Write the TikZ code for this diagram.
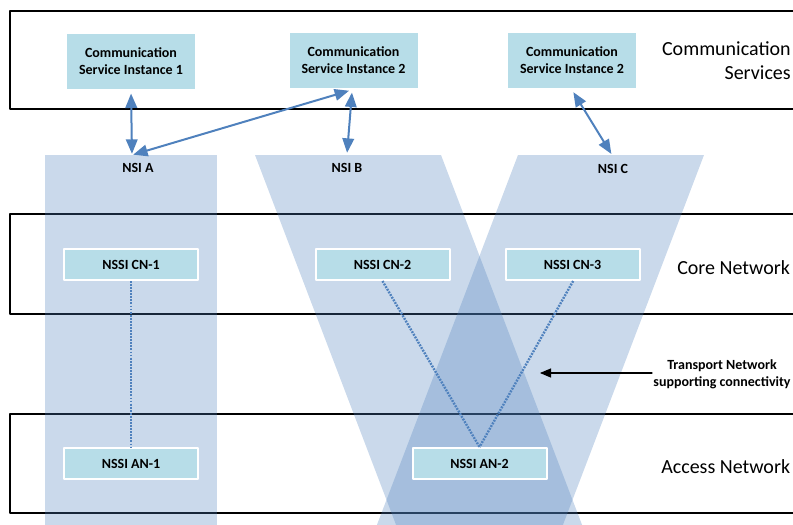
\documentclass[tikz,border=0pt]{standalone}
\usepackage{fontspec}
\setmainfont{Carlito}
\usepackage{tikz}
\usetikzlibrary{arrows}

\definecolor{boxfill}{RGB}{183,221,232}
\definecolor{sliceblue}{RGB}{79,129,189}
\definecolor{linkblue}{RGB}{79,129,189}

\begin{document}
\begin{tikzpicture}[line cap=round,line join=round,>=triangle 45,x=0.75pt,y=-0.75pt,
    inst/.style={fill=boxfill,draw=white,line width=1.5pt,align=center,inner sep=0pt,
      font=\fontsize{10.5}{12.75}\selectfont\bfseries},
    csibox/.style={inst,minimum width=97.5pt,minimum height=42.75pt},
    nssibox/.style={inst,minimum width=100.5pt,minimum height=23.25pt},
    layer/.style={draw=black,line width=1.5pt,line cap=butt},
    slice/.style={fill=sliceblue,fill opacity=0.3},
    slicelabel/.style={font=\fontsize{10.5}{12.75}\selectfont\bfseries,inner sep=0pt},
    layerlabel/.style={font=\fontsize{15}{18}\selectfont,inner sep=0pt},
    link/.style={<->,draw=linkblue,line width=1.5pt,shorten <=2pt,shorten >=1pt},
    tnlink/.style={draw=linkblue,line width=1.8pt,line cap=butt,dash pattern=on 1.4pt off 0.9pt}]
        \useasboundingbox (0,0) rectangle (793,525);
        \clip (0,0) rectangle (793,525);
        \draw[layer] (10,11) rectangle (830,109);
        \draw[layer] (10,214) rectangle (830,314);
        \draw[layer] (10,414) rectangle (830,513);
        \fill[slice] (45,155) rectangle (217,530);
        \fill[slice] (255,155) -- (441,155) -- (584,530) -- (398,530) -- cycle;
        \fill[slice] (518,155) -- (704,155) -- (561,530) -- (375,530) -- cycle;
        \node[slicelabel] (nsiA) at (138,168) {NSI A};
        \node[slicelabel] (nsiB) at (347,168) {NSI B};
        \node[slicelabel] (nsiC) at (613,169) {NSI C};
        \coordinate (topA) at (132,155);
        \coordinate (topB) at (347,154);
        \coordinate (topC) at (612,155);
        \node[csibox] (csi1) at (131,61.5) {Communication\\Service Instance 1};
        \node[csibox] (csi2) at (353.5,60.5) {Communication\\Service Instance 2};
        \node[csibox] (csi3) at (572,60.5) {Communication\\Service Instance 2};
        \node[nssibox] (cn1) at (131,264.5) {NSSI CN-1};
        \node[nssibox] (cn2) at (382.5,264.5) {NSSI CN-2};
        \node[nssibox] (cn3) at (572.5,264.5) {NSSI CN-3};
        \node[nssibox] (an1) at (131,463.5) {NSSI AN-1};
        \node[nssibox] (an2) at (479.5,463.5) {NSSI AN-2};
        \draw[link] (csi1.south) -- (topA);
        \draw[link] ([xshift=-1.5pt]csi2.south) -- (topA);
        \draw[link] ([xshift=-1pt]csi2.south) -- (topB);
        \draw[link] (csi3.south) -- (topC);
        \draw[tnlink] (cn1.south) -- (an1.north);
        \draw[tnlink] (cn2.south) -- (an2.north);
        \draw[tnlink] ([xshift=0.5pt]cn3.south) -- (an2.north);
        \node[layerlabel,anchor=east,align=right] (cslabel) at (791,61) {Communication\\Services};
        \node[layerlabel,anchor=west] (cnlabel) at (677,268) {Core Network};
        \node[layerlabel,anchor=west] (anlabel) at (661,467) {Access Network};
        \node[slicelabel,align=center] (tnlabel) at (722,374) {Transport Network\\supporting connectivity};
        \coordinate (tnpoint) at (540,373);
        \draw[->,line width=0.9pt] (652,373) -- (tnpoint);
      \end{tikzpicture}
\end{document}
